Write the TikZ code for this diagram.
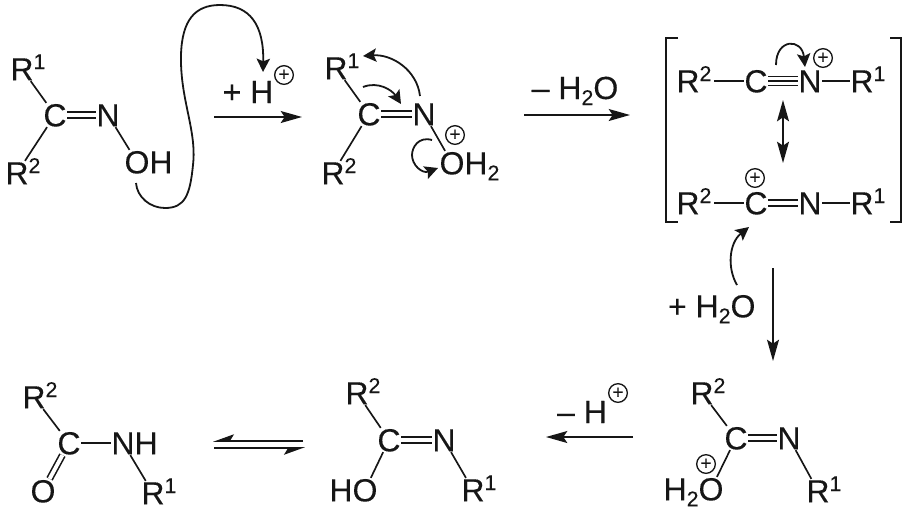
\documentclass[tikz,border=0pt]{standalone}
\usepackage{fontspec}
\setmainfont{Liberation Sans}[FakeBold=0.25]
\usetikzlibrary{arrows.meta}
\definecolor{ink}{HTML}{161616}
\newcommand{\supn}[1]{\rlap{\raisebox{8.5pt}{\fontsize{16}{16}\selectfont #1}}}
\newcommand{\subn}{\raisebox{-4.5pt}{\fontsize{16}{16}\selectfont 2}}
\tikzset{
  atom/.style={text=ink,font=\fontsize{24}{26}\selectfont,text height=17pt,text depth=0pt,inner sep=0.6pt,outer sep=0pt},
  plain/.style={text=ink,font=\fontsize{24}{26}\selectfont,inner sep=0pt,outer sep=0pt,anchor=base},
  charge/.style={circle,draw=ink,line width=1pt,minimum size=14pt,inner sep=0pt,text=ink,font=\fontsize{14}{14}\selectfont},
  bond/.style={draw=ink,line width=1.25pt},
  dbl/.style={draw=ink,line width=1.2pt,double=white,double distance=2.9pt},
  tpl/.style={draw=ink,line width=1.15pt,double=white,double distance=5.6pt},
  react/.style={draw=ink,line width=1.2pt,-{Stealth[length=16pt,width=9pt,inset=3pt]}},
  both/.style={draw=ink,line width=1.2pt,{Stealth[length=16pt,width=9pt,inset=3pt]}-{Stealth[length=16pt,width=9pt,inset=3pt]}},
  curved/.style={draw=ink,line width=1.35pt,-{Stealth[length=10pt,width=10pt,inset=2pt]}},
  harpL/.style={draw=ink,line width=1.2pt,-{Stealth[harpoon,swap,length=14pt,width=10pt,inset=3pt]}},
  brack/.style={draw=ink,line width=1.3pt},
}
\begin{document}
\begin{tikzpicture}[x=0.75pt,y=-0.75pt]
\useasboundingbox (0,0) rectangle (906,512);
% --- molecule 1
\node[atom] (a1) at (22,69) {R\supn{1}};
\node[atom] (a2) at (55,115) {C};
\node[atom] (a3) at (108,115) {N};
\node[atom] (a4) at (137,162) {O\rlap{H}};
\node[atom] (a5) at (17,173) {R\supn{2}};
\draw[bond] (a1) -- (a2);
\draw[bond] (a5) -- (a2);
\draw[dbl] (a2) -- (a3);
\draw[bond] (a3) -- (a4);
\coordinate (c1s) at (136,183);
\coordinate (c1e) at (263,72);
\draw[curved] (c1s) .. controls (137,197) and (150,208) .. (165,208)
  .. controls (185,208) and (190,195) .. (193,165)
  .. controls (197,130) and (180,100) .. (181,55)
  .. controls (182,20) and (195,5) .. (220,5)
  .. controls (250,5) and (264,25) .. (c1e);
% --- step 1 arrow
\coordinate (r1s) at (214,117);
\coordinate (r1e) at (302,117);
\draw[react] (r1s) -- (r1e);
\node[plain] (t1) at (248,103) {+ H};
\node[charge] (q1) at (284,75) {+};
% --- molecule 2
\node[atom] (b1) at (336,68) {R\supn{1}};
\node[atom] (b2) at (369,114) {C};
\node[atom] (b3) at (424,114) {N};
\node[atom] (b4) at (452,163) {O\rlap{H\subn}};
\node[atom] (b5) at (333,173) {R\supn{2}};
\node[charge] (q2) at (455,135) {+};
\draw[bond] (b1) -- (b2);
\draw[bond] (b5) -- (b2);
\draw[dbl] (b2) -- (b3);
\draw[bond] (b3) -- (b4);
\coordinate (c2s) at (420,96);
\coordinate (c2e) at (363,56);
\draw[curved] (c2s) .. controls (417,70) and (392,54) .. (c2e);
\coordinate (c3s) at (363,87);
\coordinate (c3e) at (401,104);
\draw[curved] (c3s) .. controls (378,81) and (392,90) .. (c3e);
\coordinate (c4s) at (432,140);
\coordinate (c4e) at (438,168);
\draw[curved] (c4s) .. controls (418,136) and (412,148) .. (412,155)
  .. controls (412,165) and (422,174) .. (c4e);
% --- step 2 arrow
\coordinate (r2s) at (524,115);
\coordinate (r2e) at (630,115);
\draw[react] (r2s) -- (r2e);
\node[plain] (t2) at (575,99) {– H\subn O};
% --- brackets
\coordinate (bl1) at (678,38);
\coordinate (bl2) at (666,38);
\coordinate (bl3) at (666,222);
\coordinate (bl4) at (678,222);
\draw[brack] (bl1) -- (bl2) -- (bl3) -- (bl4);
\coordinate (br1) at (890,38);
\coordinate (br2) at (901,38);
\coordinate (br3) at (901,222);
\coordinate (br4) at (890,222);
\draw[brack] (br1) -- (br2) -- (br3) -- (br4);
% --- nitrilium
\node[atom] (d1) at (688,81) {R\supn{2}};
\node[atom] (d2) at (756,81) {C};
\node[atom] (d3) at (810,81) {N};
\node[atom] (d4) at (862,81) {R\supn{1}};
\node[charge] (q3) at (823,58) {+};
\coordinate (d1e) at (714,81);
\draw[bond] (d1e) -- (d2);
\draw[tpl] (d2) -- (d3);
\draw[bond] (d2) -- (d3);
\draw[bond] (d3) -- (d4);
\coordinate (c5s) at (776,65);
\coordinate (c5e) at (805,67);
\draw[curved] (c5s) .. controls (776,38) and (802,38) .. (c5e);
% --- resonance arrow
\coordinate (m1) at (783,100);
\coordinate (m2) at (783,163);
\draw[both] (m1) -- (m2);
% --- iminium
\node[atom] (e1) at (688,203) {R\supn{2}};
\node[atom] (e2) at (756,203) {C};
\node[atom] (e3) at (810,203) {N};
\node[atom] (e4) at (862,203) {R\supn{1}};
\node[charge] (q4) at (755,178) {+};
\coordinate (e1e) at (714,203);
\draw[bond] (e1e) -- (e2);
\draw[dbl] (e2) -- (e3);
\draw[bond] (e3) -- (e4);
% --- water attack
\node[atom] (w1) at (743,306) {\llap{+ H\subn}O};
\coordinate (c6s) at (737,285);
\coordinate (c6e) at (749,227);
\draw[curved] (c6s) .. controls (727,268) and (729,243) .. (c6e);
% --- step 3 arrow
\coordinate (r3s) at (773,268);
\coordinate (r3e) at (773,361);
\draw[react] (r3s) -- (r3e);
% --- molecule bottom right
\node[atom] (f1) at (702,393) {R\supn{2}};
\node[atom] (f2) at (736,438) {C};
\node[atom] (f3) at (789,438) {N};
\node[atom] (f4) at (818,491) {R\supn{1}};
\node[atom] (f5) at (711,489) {\llap{H\subn}O};
\node[charge] (q5) at (706,464) {+};
\draw[bond] (f1) -- (f2);
\draw[dbl] (f2) -- (f3);
\draw[bond] (f3) -- (f4);
\draw[bond] (f2) -- (f5);
% --- step 4 arrow
\coordinate (r4s) at (633,437);
\coordinate (r4e) at (546,437);
\draw[react] (r4s) -- (r4e);
\node[plain] (t4) at (582,423) {– H};
\node[charge] (q6) at (618,393) {+};
% --- molecule bottom middle
\node[atom] (g1) at (357,393) {R\supn{2}};
\node[atom] (g2) at (389,440) {C};
\node[atom] (g3) at (444,440) {N};
\node[atom] (g4) at (473,490) {R\supn{1}};
\node[atom] (g5) at (365,490) {\llap{H}O};
\draw[bond] (g1) -- (g2);
\draw[dbl] (g2) -- (g3);
\draw[bond] (g3) -- (g4);
\draw[bond] (g2) -- (g5);
% --- equilibrium arrows
\coordinate (h1) at (303,441);
\coordinate (h2) at (213,441);
\coordinate (h3) at (214,448);
\coordinate (h4) at (305,448);
\draw[harpL] (h1) -- (h2);
\draw[harpL] (h3) -- (h4);
% --- amide
\node[atom] (k1) at (34,397) {R\supn{2}};
\node[atom] (k2) at (69,443) {C};
\node[atom] (k3) at (123,443) {N\rlap{H}};
\node[atom] (k4) at (153,493) {R\supn{1}};
\node[atom] (k5) at (43,491) {O};
\draw[bond] (k1) -- (k2);
\draw[bond] (k2) -- (k3);
\draw[bond] (k3) -- (k4);
\draw[dbl] (k2) -- (k5);
\end{tikzpicture}
\end{document}
